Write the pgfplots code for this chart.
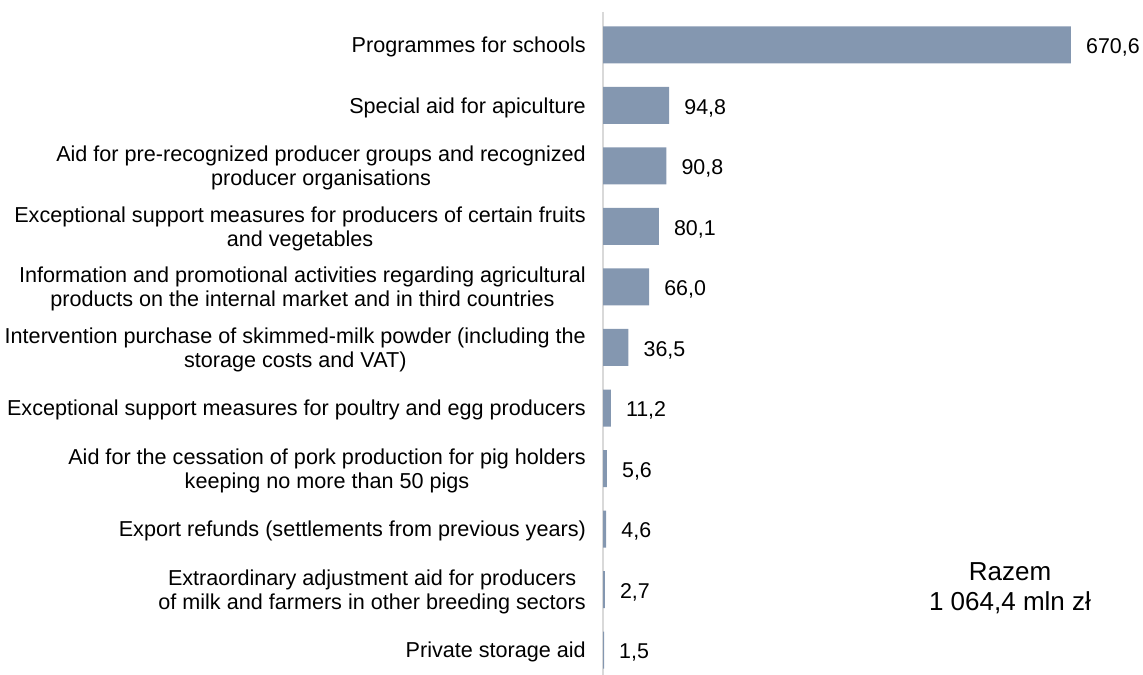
\documentclass[border=0pt]{standalone}
\usepackage{pgfplots}
\pgfplotsset{compat=1.18}
\usepackage{fontspec}
\setmainfont{Liberation Sans}
\definecolor{barc}{HTML}{8497B0}
\definecolor{axc}{HTML}{D9D9D9}
\begin{document}
\begin{tikzpicture}
\path[use as bounding box] (0bp,0bp) rectangle (1143bp,675bp);
\begin{axis}[
  at={(603bp,0bp)}, anchor=south west,
  scale only axis, width=540bp, height=663bp,
  xbar, bar width=37bp,
  xmin=0, xmax=773.8, ymin=-0.545, ymax=10.413, y dir=reverse,
  hide x axis,
  axis y line*=left,
  y axis line style={draw=axc, line width=1.5bp},
  ytick={0,1,2,3,4,5,6,7,8,9,10},
  major tick length=0pt,
  yticklabels={
    {Programmes for schools},
    {Special aid for apiculture},
    {Aid for pre-recognized producer groups and recognized\\producer organisations},
    {Exceptional support measures for producers of certain fruits\\and vegetables},
    {Information and promotional activities regarding agricultural\\products on the internal market and in third countries},
    {Intervention purchase of skimmed-milk powder (including the\\storage costs and VAT)},
    {Exceptional support measures for poultry and egg producers},
    {Aid for the cessation of pork production for pig holders\\keeping no more than 50 pigs},
    {Export refunds (settlements from previous years)},
    {Extraordinary adjustment aid for producers\\of milk and farmers in other breeding sectors},
    {Private storage aid}},
  yticklabel style={align=center, anchor=east, inner sep=0pt, xshift=-17bp, yshift=-2bp,
    font=\fontsize{21.6bp}{24bp}\selectfont},
  nodes near coords,
  every node near coord/.append style={anchor=west, inner sep=0pt, xshift=15bp, yshift=-2.5bp,
    font=\fontsize{21.4bp}{24bp}\selectfont, text=black},
  /pgf/number format/use comma,
  /pgf/number format/fixed,
  /pgf/number format/fixed zerofill,
  /pgf/number format/precision=1,
  /pgf/number format/assume math mode=true,
]
\addplot[fill=barc, draw=none] table[x=v, y=i] {
i v
0 670.6
1 94.8
2 90.8
3 80.1
4 66.0
5 36.5
6 11.2
7 5.6
8 4.6
9 2.7
10 1.5
};
\end{axis}
\node[align=center, font=\fontsize{26bp}{30bp}\selectfont] at (1010bp,87bp) {Razem\\1 064,4 mln zł};
\end{tikzpicture}
\end{document}
